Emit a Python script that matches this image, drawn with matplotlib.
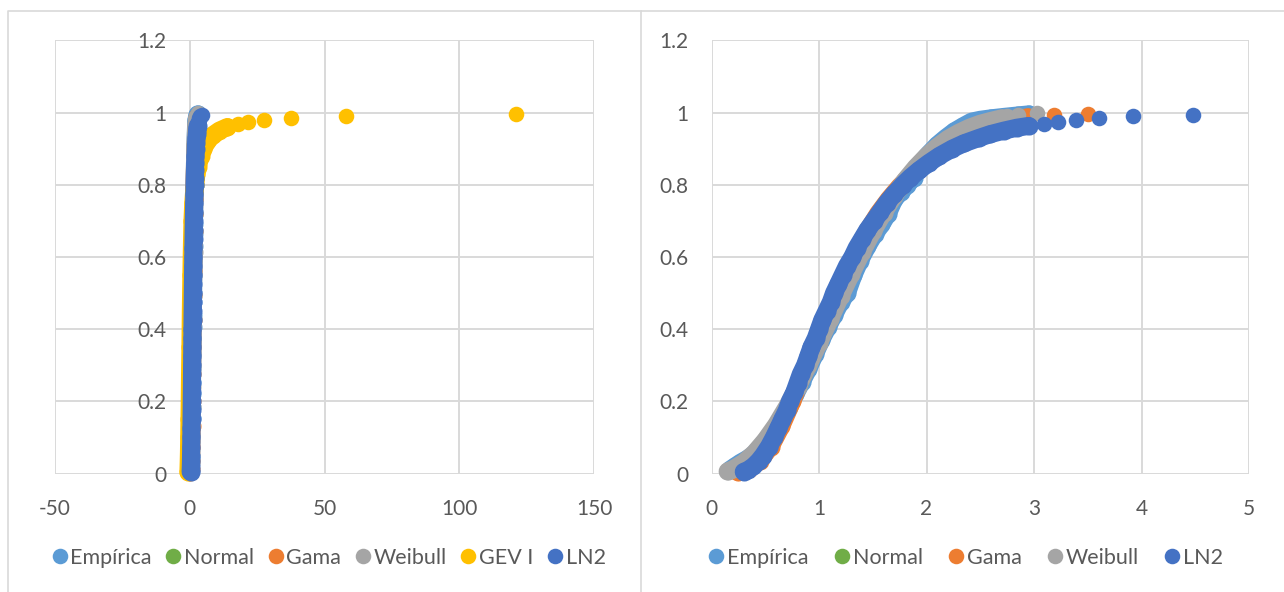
import matplotlib
matplotlib.use('Agg')
import matplotlib.pyplot as plt
from matplotlib.lines import Line2D
from matplotlib.ticker import FuncFormatter

plt.rcParams['font.family'] = ['Lato', 'DejaVu Sans']

# ---- data ----
emp_x = [0.17, 0.22, 0.27, 0.33, 0.38, 0.44, 0.50, 0.55, 0.60, 0.66, 0.72, 0.78, 0.84, 0.90,
         0.96, 1.02, 1.08, 1.14, 1.20, 1.26, 1.32, 1.38, 1.45, 1.52, 1.58, 1.64, 1.70, 1.76,
         1.82, 1.88, 1.95, 2.02, 2.10, 2.18, 2.26, 2.34, 2.42, 2.50, 2.60, 2.72, 2.85, 2.95]
emp_y = [0.01, 0.02, 0.03, 0.04, 0.05, 0.068, 0.088, 0.108, 0.128, 0.155, 0.185, 0.22, 0.255,
         0.29, 0.33, 0.37, 0.405, 0.44, 0.475, 0.50, 0.55, 0.59, 0.63, 0.665, 0.69, 0.72, 0.76,
         0.78, 0.80, 0.82, 0.86, 0.885, 0.91, 0.93, 0.948, 0.962, 0.975, 0.98, 0.984, 0.988,
         0.992, 0.995]

norm_x = []
norm_y = []

gam_x = [0.25, 0.35, 0.45, 0.55, 0.65, 0.75, 0.85, 0.95, 1.05, 1.15, 1.25, 1.35, 1.45, 1.55,
         1.65, 1.75, 1.85, 2.0, 2.15, 2.3, 2.5, 2.7, 2.94]
gam_y = [0.004, 0.014, 0.036, 0.075, 0.132, 0.2, 0.275, 0.35, 0.425, 0.495, 0.56, 0.62,
         0.672, 0.72, 0.76, 0.795, 0.825, 0.862, 0.895, 0.922, 0.95, 0.97, 0.987]
gam_tail_x = [3.19, 3.50]
gam_tail_y = [0.993, 0.996]

wei_x = [0.15, 0.2, 0.3, 0.4, 0.5, 0.6, 0.7, 0.8, 0.9, 1.0, 1.1, 1.2, 1.3, 1.4, 1.5, 1.6,
         1.7, 1.8, 1.9, 2.0, 2.1, 2.2, 2.3, 2.4, 2.5, 2.6, 2.7]
wei_y = [0.006, 0.012, 0.03, 0.057, 0.092, 0.134, 0.184, 0.24, 0.30, 0.363, 0.427, 0.492,
         0.554, 0.615, 0.671, 0.723, 0.77, 0.812, 0.848, 0.879, 0.905, 0.927, 0.944, 0.958,
         0.969, 0.977, 0.984]
wei_tail_x = [2.75, 2.85, 3.03]
wei_tail_y = [0.99, 0.994, 0.998]

gev_x = [-0.5, -0.4, -0.3, -0.2, -0.1, 0.0, 0.1, 0.25, 0.4, 0.6, 0.8, 1.0, 1.3, 1.6, 2.0,
         2.5, 3.0, 4.0, 5.0, 6.5, 8.5, 11.0, 14.0]
gev_y = [0.005, 0.03, 0.06, 0.1, 0.15, 0.2, 0.27, 0.35, 0.45, 0.55, 0.63, 0.7, 0.75, 0.78,
         0.80, 0.83, 0.85, 0.88, 0.90, 0.92, 0.937, 0.95, 0.96]
gev_tail_x = [17.8, 21.5, 27.5, 37.5, 57.9, 121.0]
gev_tail_y = [0.969, 0.975, 0.98, 0.985, 0.99, 0.995]

ln2_x = [0.30, 0.34, 0.39, 0.44, 0.48, 0.535, 0.58, 0.62, 0.66, 0.70, 0.73, 0.77, 0.80, 0.83,
         0.87, 0.90, 0.93, 0.97, 1.00, 1.03, 1.07, 1.11, 1.14, 1.18, 1.22, 1.26, 1.31, 1.35,
         1.40, 1.45, 1.51, 1.57, 1.63, 1.70, 1.78, 1.85, 1.93, 2.02, 2.12, 2.24, 2.35, 2.49,
         2.59, 2.72, 2.84, 2.95]
ln2_y = [0.005, 0.01, 0.02, 0.035, 0.05, 0.075, 0.1, 0.125, 0.15, 0.175, 0.2, 0.225, 0.25,
         0.275, 0.3, 0.325, 0.35, 0.375, 0.4, 0.425, 0.45, 0.475, 0.5, 0.525, 0.55, 0.575, 0.6,
         0.625, 0.65, 0.675, 0.7, 0.725, 0.75, 0.775, 0.8, 0.82, 0.84, 0.86, 0.88, 0.9, 0.915,
         0.93, 0.94, 0.95, 0.958, 0.963]
ln2_tail_x = [3.09, 3.22, 3.39, 3.60, 3.92, 4.48]
ln2_tail_y = [0.968, 0.974, 0.979, 0.985, 0.99, 0.994]

# excel palette
C_EMP = '#5B9BD5'
C_NORM = '#70AD47'
C_GAM = '#ED7D31'
C_WEI = '#A5A5A5'
C_GEV = '#FFC000'
C_LN2 = '#4472C4'
GRID = '#D9D9D9'
TXT = '#595959'
MS = 11.2   # marker diameter in points (~15 px)
BAND = 13   # dense runs of overlapping dots look a bit wider
FS = 15

series_common = [
    ('Empírica', C_EMP, emp_x, emp_y, [], []),
    ('Normal', C_NORM, norm_x, norm_y, [], []),
    ('Gama', C_GAM, gam_x, gam_y, gam_tail_x, gam_tail_y),
    ('Weibull', C_WEI, wei_x, wei_y, wei_tail_x, wei_tail_y),
]
gev = ('GEV I', C_GEV, gev_x, gev_y, gev_tail_x, gev_tail_y)
ln2 = ('LN2', C_LN2, ln2_x, ln2_y, ln2_tail_x, ln2_tail_y)


def draw(ax, s, z):
    name, c, x, y, tx, ty = s
    if x:
        ax.plot(x, y, color=c, lw=BAND, marker='o', ms=BAND, mew=0, solid_capstyle='round',
                solid_joinstyle='round', clip_on=False, zorder=z)
    if tx:
        ax.plot(tx, ty, 'o', color=c, ms=MS, mew=0, clip_on=False, zorder=z)


def style(ax, xlim, xticks, ypad):
    ax.set_xlim(*xlim)
    ax.set_ylim(0, 1.2)
    ax.set_xticks(xticks)
    ax.set_yticks([0, 0.2, 0.4, 0.6, 0.8, 1.0, 1.2])
    fmt = FuncFormatter(lambda v, p: f'{v:g}')
    ax.xaxis.set_major_formatter(fmt)
    ax.yaxis.set_major_formatter(fmt)
    ax.grid(True, color=GRID, lw=1.4)
    ax.set_axisbelow(True)
    for sp in ax.spines.values():
        sp.set_visible(False)
    ax.tick_params(length=0, labelsize=FS, labelcolor=TXT)
    ax.tick_params(axis='x', pad=18)
    ax.tick_params(axis='y', pad=ypad)
    ax.spines['left'].set_position(('data', 0))


fig = plt.figure(figsize=(12.84, 5.92), dpi=100)

# panel frames
for x0, x1 in [(8 / 1284, 641 / 1284), (641 / 1284, 1.01)]:
    fig.add_artist(Line2D([x0, x0, x1], [-0.01, 0.9814, 0.9814], color=GRID, lw=1.2,
                          transform=fig.transFigure))

axL = fig.add_axes([55 / 1284, 0.2, 539 / 1284, 0.7318])
axR = fig.add_axes([711.5 / 1284, 0.2, 537.5 / 1284, 0.7318])

for i, s in enumerate(series_common):
    draw(axL, s, 3 + i)
draw(axL, gev, 8)
draw(axL, ln2, 9)
style(axL, (-50, 150), [-50, 0, 50, 100, 150], 17)

for i, s in enumerate(series_common):
    draw(axR, s, 3 + i)
draw(axR, ln2, 9)
style(axR, (0, 5), [0, 1, 2, 3, 4, 5], 16.5)


def legend(ax, items, bx, gap):
    handles = [Line2D([], [], marker='o', ls='', color=c, ms=MS, mew=0) for _, c in items]
    leg = ax.legend(handles, [n for n, _ in items], loc='center', bbox_to_anchor=(bx, -0.194),
                    ncol=len(items), frameon=False, fontsize=FS + 0.5, handlelength=0.7,
                    handletextpad=0.15, columnspacing=gap, borderaxespad=0)
    for t in leg.get_texts():
        t.set_color(TXT)


legend(axL, [('Empírica', C_EMP), ('Normal', C_NORM), ('Gama', C_GAM), ('Weibull', C_WEI),
             ('GEV I', C_GEV), ('LN2', C_LN2)], 0.508, 0.65)
legend(axR, [('Empírica', C_EMP), ('Normal', C_NORM), ('Gama', C_GAM), ('Weibull', C_WEI),
             ('LN2', C_LN2)], 0.4735, 1.2)

fig.savefig('out.png', dpi=100)
